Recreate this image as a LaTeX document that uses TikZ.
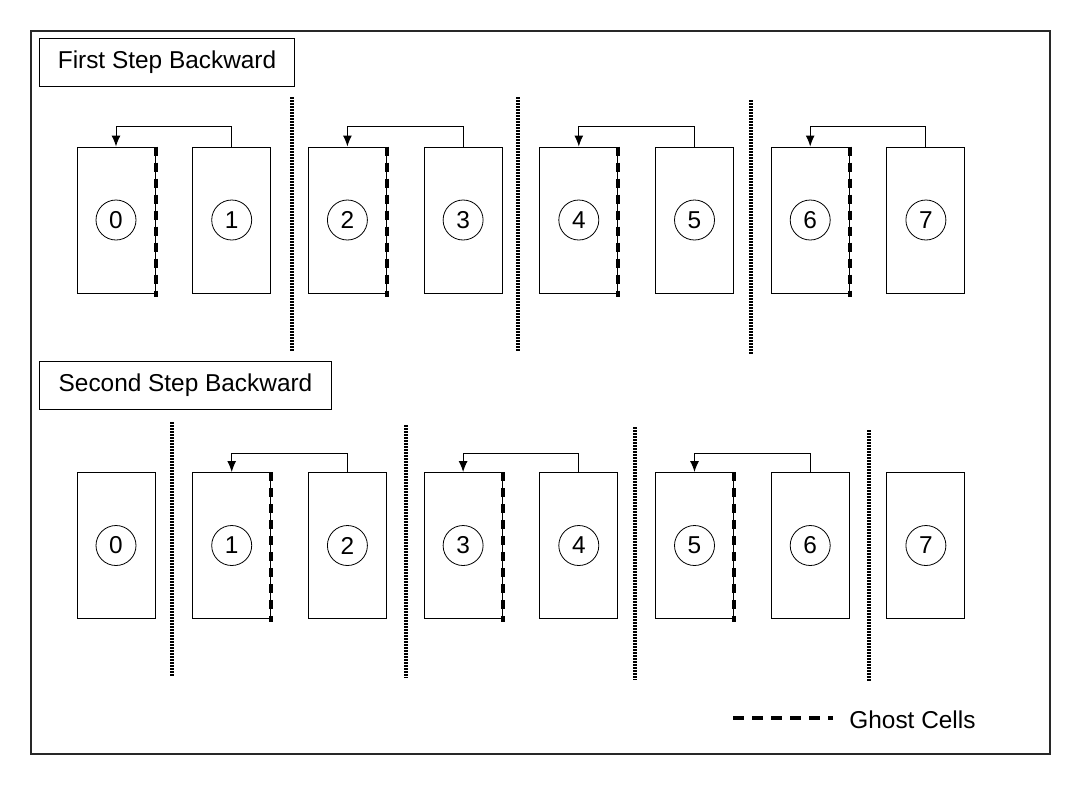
\documentclass[tikz,border=0pt]{standalone}
\usepackage{fontspec}
\setmainfont{Liberation Sans}
\usetikzlibrary{arrows.meta,positioning}
\definecolor{framegray}{RGB}{40,40,40}

\begin{document}
\begin{tikzpicture}[x=0.5pt,y=-0.5pt,>={Latex[length=5.5pt,width=4.5pt]},font=\fontsize{12.2}{14}\selectfont]
\tikzstyle{cell}=[draw,line width=0.5pt,minimum width=39pt,minimum height=73pt,inner sep=0pt]
\tikzstyle{num}=[draw,circle,line width=0.4pt,minimum size=20pt,inner sep=0pt]
\tikzstyle{title}=[draw,line width=0.5pt,anchor=north west,minimum height=24pt,align=center]
\tikzstyle{ghost}=[line width=2pt,dash pattern=on 4.5pt off 3.5pt]
\tikzstyle{divider}=[line width=1.6pt,dash pattern=on 1pt off 0.5pt]
\useasboundingbox (0,0) rectangle (1080,810);
\draw[framegray,line width=1pt] (31,31) rectangle (1050,754);
% first step
\node[title,minimum width=127.5pt] (first) at (39,38) {First Step Backward};
\foreach \i in {0,...,7} {
  \node[cell] (t\i) at ({116+115.7*\i},220) {};
  \node[num] (nt\i) at (t\i) {\i};
}
\foreach \a/\b in {0/1,2/3,4/5,6/7} {
  \draw[ghost] (t\a.north east) -- ([yshift=-1.5pt]t\a.south east);
  \draw[->,line width=0.5pt] (t\b.north) -- ++(0,-20) -| (t\a.north);
}
\draw[divider] (292,97) -- (292,351);
\draw[divider] (518,97) -- (518,352);
\draw[divider] (751,100) -- (751,355);
% second step
\node[title,minimum width=146pt] (second) at (39,361) {Second Step Backward};
\foreach \i in {0,...,7} {
  \node[cell] (b\i) at ({116+115.7*\i},545.5) {};
  \node[num] (nb\i) at (b\i) {\i};
}
\foreach \a/\b in {1/2,3/4,5/6} {
  \draw[ghost] (b\a.north east) -- ([yshift=-1.5pt]b\a.south east);
  \draw[->,line width=0.5pt] (b\b.north) -- ++(0,-19) -| (b\a.north);
}
\draw[divider] (172,422) -- (172,676);
\draw[divider] (406,425) -- (406,678);
\draw[divider] (635,427) -- (635,680);
\draw[divider] (869,430) -- (869,682);
% legend
\coordinate (lg) at (733,718);
\node[right=8pt of lg,xshift=50pt,yshift=-1pt,inner sep=0pt] (ghosttext) {Ghost Cells};
\draw[ghost,dash pattern=on 5.5pt off 4pt] (lg) -- ++(100,0);
\end{tikzpicture}
\end{document}
